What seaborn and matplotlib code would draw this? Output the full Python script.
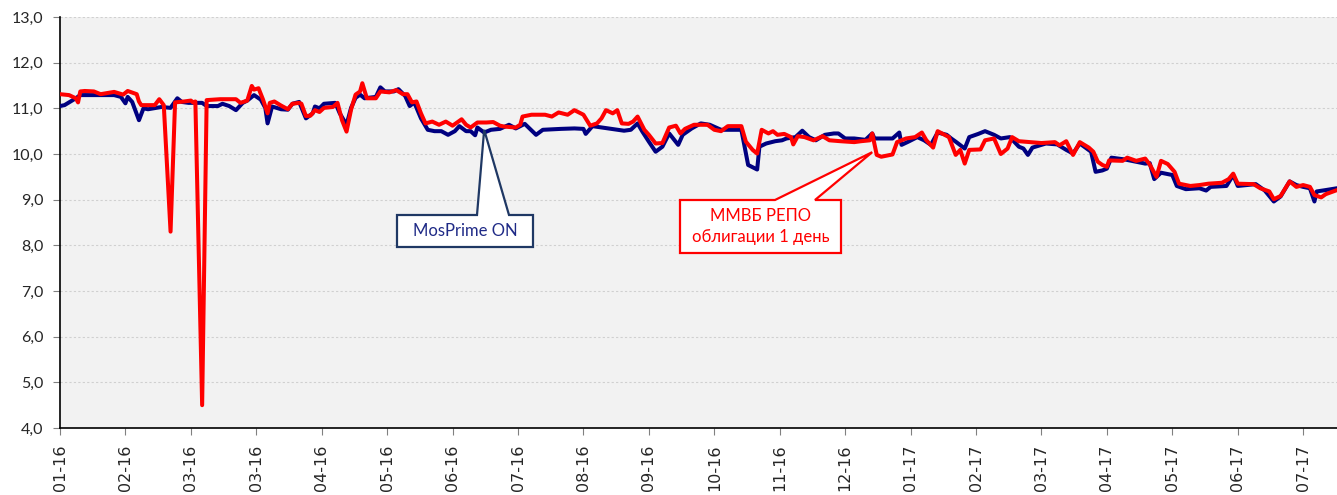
import pandas as pd
import matplotlib.pyplot as plt
import matplotlib.dates as mdates
from matplotlib.patches import Polygon
import seaborn as sns

# MosPrime ON (daily)
mosprime_on = [
    ("2016-01-03", 11.05), ("2016-01-05", 11.07), ("2016-01-10", 11.22), ("2016-01-12", 11.29),
    ("2016-01-27", 11.29), ("2016-01-30", 11.25), ("2016-02-01", 11.11), ("2016-02-02", 11.25),
    ("2016-02-04", 11.14), ("2016-02-07", 10.74), ("2016-02-09", 11.00), ("2016-02-11", 10.98),
    ("2016-02-17", 11.03), ("2016-02-21", 11.01), ("2016-02-24", 11.22), ("2016-02-26", 11.14),
    ("2016-02-29", 11.12), ("2016-03-06", 11.12), ("2016-03-08", 11.05), ("2016-03-13", 11.05),
    ("2016-03-15", 11.10), ("2016-03-18", 11.05), ("2016-03-21", 10.96), ("2016-03-24", 11.12),
    ("2016-03-26", 11.17), ("2016-03-29", 11.29), ("2016-04-01", 11.19), ("2016-04-03", 11.01),
    ("2016-04-04", 10.67), ("2016-04-06", 11.04), ("2016-04-10", 10.98), ("2016-04-13", 10.97),
    ("2016-04-15", 11.10), ("2016-04-18", 11.14), ("2016-04-21", 10.78), ("2016-04-24", 10.89),
    ("2016-04-25", 11.04), ("2016-04-27", 11.00), ("2016-04-29", 11.10), ("2016-05-04", 11.12),
    ("2016-05-06", 10.89), ("2016-05-09", 10.64), ("2016-05-11", 11.01), ("2016-05-13", 11.23),
    ("2016-05-15", 11.30), ("2016-05-17", 11.22), ("2016-05-22", 11.25), ("2016-05-24", 11.46),
    ("2016-05-26", 11.37), ("2016-05-30", 11.37), ("2016-06-01", 11.42), ("2016-06-04", 11.27),
    ("2016-06-06", 11.05), ("2016-06-08", 11.13), ("2016-06-11", 10.78), ("2016-06-14", 10.53),
    ("2016-06-17", 10.50), ("2016-06-20", 10.50), ("2016-06-23", 10.42), ("2016-06-26", 10.50),
    ("2016-06-28", 10.61), ("2016-07-01", 10.50), ("2016-07-03", 10.50), ("2016-07-05", 10.41),
    ("2016-07-06", 10.58), ("2016-07-09", 10.47), ("2016-07-12", 10.53), ("2016-07-16", 10.55),
    ("2016-07-20", 10.64), ("2016-07-23", 10.56), ("2016-07-27", 10.66), ("2016-08-01", 10.42),
    ("2016-08-04", 10.53), ("2016-08-12", 10.55), ("2016-08-18", 10.56), ("2016-08-22", 10.55),
    ("2016-08-23", 10.44), ("2016-08-26", 10.61), ("2016-09-02", 10.56), ("2016-09-09", 10.51),
    ("2016-09-12", 10.53), ("2016-09-15", 10.67), ("2016-09-17", 10.50), ("2016-09-20", 10.27),
    ("2016-09-23", 10.05), ("2016-09-26", 10.16), ("2016-09-29", 10.45), ("2016-10-03", 10.20),
    ("2016-10-05", 10.42), ("2016-10-09", 10.56), ("2016-10-13", 10.67), ("2016-10-17", 10.64),
    ("2016-10-22", 10.53), ("2016-10-31", 10.53), ("2016-11-02", 10.01), ("2016-11-03", 9.76),
    ("2016-11-07", 9.66), ("2016-11-08", 10.16), ("2016-11-11", 10.23), ("2016-11-15", 10.28),
    ("2016-11-18", 10.30), ("2016-11-20", 10.34), ("2016-11-24", 10.37), ("2016-11-27", 10.51),
    ("2016-11-30", 10.37), ("2016-12-03", 10.30), ("2016-12-07", 10.42), ("2016-12-11", 10.45),
    ("2016-12-13", 10.45), ("2016-12-16", 10.34), ("2016-12-20", 10.34), ("2016-12-25", 10.31),
    ("2016-12-28", 10.45), ("2016-12-29", 10.34), ("2017-01-06", 10.34), ("2017-01-09", 10.47),
    ("2017-01-10", 10.20), ("2017-01-13", 10.27), ("2017-01-17", 10.37), ("2017-01-20", 10.30),
    ("2017-01-23", 10.20), ("2017-01-26", 10.47), ("2017-01-30", 10.42), ("2017-02-01", 10.34),
    ("2017-02-03", 10.27), ("2017-02-07", 10.12), ("2017-02-09", 10.37), ("2017-02-13", 10.44),
    ("2017-02-16", 10.50), ("2017-02-20", 10.42), ("2017-02-23", 10.34), ("2017-02-27", 10.37),
    ("2017-03-03", 10.16), ("2017-03-05", 10.12), ("2017-03-07", 9.98), ("2017-03-09", 10.14),
    ("2017-03-15", 10.23), ("2017-03-20", 10.21), ("2017-03-24", 10.09), ("2017-03-27", 10.01),
    ("2017-03-30", 10.23), ("2017-04-04", 10.05), ("2017-04-06", 9.61), ("2017-04-09", 9.64),
    ("2017-04-11", 9.68), ("2017-04-13", 9.92), ("2017-04-19", 9.88), ("2017-04-24", 9.83),
    ("2017-04-28", 9.79), ("2017-04-30", 9.80), ("2017-05-02", 9.45), ("2017-05-05", 9.59),
    ("2017-05-10", 9.54), ("2017-05-12", 9.30), ("2017-05-16", 9.23), ("2017-05-22", 9.25),
    ("2017-05-25", 9.20), ("2017-05-27", 9.28), ("2017-06-03", 9.30), ("2017-06-06", 9.54),
    ("2017-06-08", 9.30), ("2017-06-16", 9.34), ("2017-06-20", 9.20), ("2017-06-24", 8.96),
    ("2017-06-27", 9.07), ("2017-07-01", 9.40), ("2017-07-04", 9.32), ("2017-07-07", 9.28),
    ("2017-07-10", 9.25), ("2017-07-12", 8.96), ("2017-07-13", 9.18), ("2017-07-17", 9.21),
    ("2017-07-22", 9.25),
]

# ММВБ РЕПО облигации 1 день
repo_1d = [
    ("2016-01-03", 11.31), ("2016-01-07", 11.29), ("2016-01-10", 11.22), ("2016-01-11", 11.13),
    ("2016-01-12", 11.37), ("2016-01-14", 11.38), ("2016-01-18", 11.37), ("2016-01-21", 11.31),
    ("2016-01-27", 11.36), ("2016-01-31", 11.30), ("2016-02-02", 11.38), ("2016-02-06", 11.31),
    ("2016-02-07", 11.15), ("2016-02-08", 11.07), ("2016-02-14", 11.07), ("2016-02-16", 11.20),
    ("2016-02-18", 11.07), ("2016-02-21", 8.30), ("2016-02-23", 11.13), ("2016-02-27", 11.15),
    ("2016-03-01", 11.17), ("2016-03-02", 11.13), ("2016-03-03", 11.15), ("2016-03-06", 4.50),
    ("2016-03-08", 11.18), ("2016-03-14", 11.20), ("2016-03-21", 11.20), ("2016-03-23", 11.12),
    ("2016-03-26", 11.17), ("2016-03-28", 11.49), ("2016-03-29", 11.41), ("2016-03-31", 11.44),
    ("2016-04-02", 11.19), ("2016-04-04", 10.89), ("2016-04-05", 11.12), ("2016-04-07", 11.15),
    ("2016-04-10", 11.06), ("2016-04-13", 10.98), ("2016-04-15", 11.10), ("2016-04-18", 11.12),
    ("2016-04-19", 11.10), ("2016-04-21", 10.83), ("2016-04-23", 10.84), ("2016-04-25", 10.96),
    ("2016-04-27", 10.92), ("2016-04-29", 11.01), ("2016-05-03", 11.03), ("2016-05-05", 11.12),
    ("2016-05-07", 10.74), ("2016-05-09", 10.49), ("2016-05-11", 10.97), ("2016-05-13", 11.30),
    ("2016-05-15", 11.37), ("2016-05-16", 11.55), ("2016-05-18", 11.22), ("2016-05-22", 11.22),
    ("2016-05-24", 11.37), ("2016-05-28", 11.35), ("2016-05-31", 11.40), ("2016-06-03", 11.31),
    ("2016-06-05", 11.31), ("2016-06-07", 11.13), ("2016-06-09", 11.15), ("2016-06-11", 10.89),
    ("2016-06-13", 10.67), ("2016-06-16", 10.71), ("2016-06-19", 10.64), ("2016-06-22", 10.71),
    ("2016-06-25", 10.62), ("2016-06-29", 10.76), ("2016-07-01", 10.64), ("2016-07-03", 10.58),
    ("2016-07-06", 10.69), ("2016-07-10", 10.69), ("2016-07-13", 10.70), ("2016-07-16", 10.62),
    ("2016-07-18", 10.60), ("2016-07-23", 10.58), ("2016-07-25", 10.64), ("2016-07-26", 10.82),
    ("2016-07-30", 10.86), ("2016-08-05", 10.86), ("2016-08-08", 10.82), ("2016-08-11", 10.91),
    ("2016-08-15", 10.86), ("2016-08-18", 10.96), ("2016-08-22", 10.86), ("2016-08-25", 10.62),
    ("2016-08-28", 10.67), ("2016-08-30", 10.78), ("2016-09-01", 10.96), ("2016-09-04", 10.89),
    ("2016-09-06", 10.96), ("2016-09-08", 10.67), ("2016-09-11", 10.66), ("2016-09-13", 10.71),
    ("2016-09-15", 10.82), ("2016-09-18", 10.53), ("2016-09-20", 10.42), ("2016-09-23", 10.23),
    ("2016-09-26", 10.24), ("2016-09-29", 10.58), ("2016-10-02", 10.62), ("2016-10-04", 10.45),
    ("2016-10-06", 10.55), ("2016-10-10", 10.64), ("2016-10-16", 10.64), ("2016-10-19", 10.53),
    ("2016-10-22", 10.50), ("2016-10-25", 10.61), ("2016-10-31", 10.61), ("2016-11-02", 10.27),
    ("2016-11-05", 10.09), ("2016-11-07", 10.01), ("2016-11-09", 10.53), ("2016-11-12", 10.45),
    ("2016-11-14", 10.50), ("2016-11-16", 10.42), ("2016-11-19", 10.44), ("2016-11-22", 10.37),
    ("2016-11-23", 10.21), ("2016-11-25", 10.39), ("2016-11-28", 10.37), ("2016-12-02", 10.30),
    ("2016-12-06", 10.39), ("2016-12-09", 10.30), ("2016-12-14", 10.28), ("2016-12-20", 10.26),
    ("2016-12-23", 10.28), ("2016-12-27", 10.30), ("2016-12-28", 10.45), ("2016-12-30", 9.98),
    ("2017-01-01", 9.94), ("2017-01-06", 9.99), ("2017-01-08", 10.26), ("2017-01-12", 10.34),
    ("2017-01-16", 10.37), ("2017-01-19", 10.47), ("2017-01-21", 10.30), ("2017-01-24", 10.14),
    ("2017-01-26", 10.50), ("2017-01-31", 10.37), ("2017-02-03", 9.98), ("2017-02-05", 10.09),
    ("2017-02-07", 9.79), ("2017-02-09", 10.09), ("2017-02-14", 10.10), ("2017-02-16", 10.30),
    ("2017-02-20", 10.34), ("2017-02-23", 10.00), ("2017-02-26", 10.12), ("2017-02-28", 10.37),
    ("2017-03-03", 10.28), ("2017-03-08", 10.26), ("2017-03-13", 10.24), ("2017-03-19", 10.26),
    ("2017-03-21", 10.19), ("2017-03-24", 10.28), ("2017-03-27", 9.98), ("2017-03-30", 10.26),
    ("2017-04-03", 10.14), ("2017-04-05", 10.05), ("2017-04-07", 9.83), ("2017-04-09", 9.76),
    ("2017-04-11", 9.72), ("2017-04-12", 9.86), ("2017-04-18", 9.85), ("2017-04-20", 9.92),
    ("2017-04-24", 9.85), ("2017-04-28", 9.90), ("2017-04-30", 9.77), ("2017-05-03", 9.50),
    ("2017-05-05", 9.85), ("2017-05-08", 9.78), ("2017-05-11", 9.61), ("2017-05-13", 9.35),
    ("2017-05-18", 9.30), ("2017-05-22", 9.32), ("2017-05-26", 9.35), ("2017-06-01", 9.37),
    ("2017-06-04", 9.45), ("2017-06-06", 9.57), ("2017-06-08", 9.35), ("2017-06-15", 9.34),
    ("2017-06-18", 9.25), ("2017-06-22", 9.18), ("2017-06-24", 9.01), ("2017-06-27", 9.08),
    ("2017-07-01", 9.40), ("2017-07-04", 9.28), ("2017-07-07", 9.32), ("2017-07-10", 9.28),
    ("2017-07-12", 9.10), ("2017-07-15", 9.05), ("2017-07-17", 9.12), ("2017-07-22", 9.21),
]

y_ticks = [4, 5, 6, 7, 8, 9, 10, 11, 12, 13]
x_start, x_end = "2016-01-03", "2017-07-22"
tick_step_days = 29  # Excel date axis, major unit 29 days

mos_label = "MosPrime ON"
repo_label = "ММВБ РЕПО\nоблигации 1 день"
mos_target = ("2016-07-09", 10.53)
repo_target = ("2016-12-28", 10.04)

df_mos = pd.DataFrame(mosprime_on, columns=["date", "rate"])
df_mos["date"] = pd.to_datetime(df_mos["date"])
df_repo = pd.DataFrame(repo_1d, columns=["date", "rate"])
df_repo["date"] = pd.to_datetime(df_repo["date"])

sns.set_style("ticks")
plt.rcParams["font.family"] = ["Lato", "DejaVu Sans"]

W, H = 1337, 495
fig = plt.figure(figsize=(W / 100, H / 100), dpi=100)
ax = fig.add_axes([60 / W, (H - 428) / H, (W - 60) / W, (428 - 17) / H])
ax.set_facecolor("#F2F2F2")

sns.lineplot(data=df_mos, x="date", y="rate", color="#000080", linewidth=2.9,
             solid_joinstyle="round", ax=ax, zorder=3)
sns.lineplot(data=df_repo, x="date", y="rate", color="#FF0000", linewidth=2.9,
             solid_joinstyle="round", ax=ax, zorder=4)

ax.set_xlim(pd.Timestamp(x_start), pd.Timestamp(x_end))
ax.set_ylim(y_ticks[0], y_ticks[-1])
ax.set_yticks(y_ticks)
ax.set_yticklabels([f"{v:.1f}".replace(".", ",") for v in y_ticks])
ax.set_xticks(pd.date_range(x_start, x_end, freq=f"{tick_step_days}D"))
ax.xaxis.set_major_formatter(mdates.DateFormatter("%m-%y"))
ax.set_xlabel("")
ax.set_ylabel("")

ax.yaxis.grid(True, color="#D0D0D0", linestyle=(0, (2, 2)), linewidth=0.8)
ax.set_axisbelow(True)
for s in ["top", "right"]:
    ax.spines[s].set_visible(False)
for s in ["left", "bottom"]:
    ax.spines[s].set_color("black")
    ax.spines[s].set_linewidth(1.2)

ax.tick_params(axis="y", length=5, color="#808080", labelsize=11.5, pad=7)
ax.tick_params(axis="x", length=5, color="#808080", labelsize=11.5, pad=7,
               labelrotation=90)
for lab in ax.get_xticklabels():
    lab.set_fontfamily("DejaVu Sans")


def px(x, y):
    return (x / W, 1 - y / H)


def callout(box, base, target, text, edge, tcolor):
    # box = (left, top, right, bottom) in px, base = wedge x-range on the top edge
    l, t, r, b = box
    tx, ty = ax.transData.transform((mdates.date2num(pd.Timestamp(target[0])), target[1]))
    apex = fig.transFigure.inverted().transform((tx, ty))
    pts = [px(l, t), px(base[0], t), tuple(apex), px(base[1], t), px(r, t), px(r, b), px(l, b)]
    poly = Polygon(pts, closed=True, facecolor="white", edgecolor=edge, linewidth=1.6,
                   transform=fig.transFigure, zorder=10, joinstyle="miter")
    fig.add_artist(poly)
    cx, cy = px((l + r) / 2, (t + b) / 2)
    fig.text(cx, cy, text, ha="center", va="center", color=tcolor, fontsize=12,
             linespacing=1.35, zorder=11)


callout((397, 215, 533, 247), (477, 509), mos_target, mos_label, "#1F3864", "#1F2A86")
callout((680, 200, 841, 253), (775, 815), repo_target, repo_label, "#FF0000", "#FF0000")

fig.savefig("out.png", dpi=100)
